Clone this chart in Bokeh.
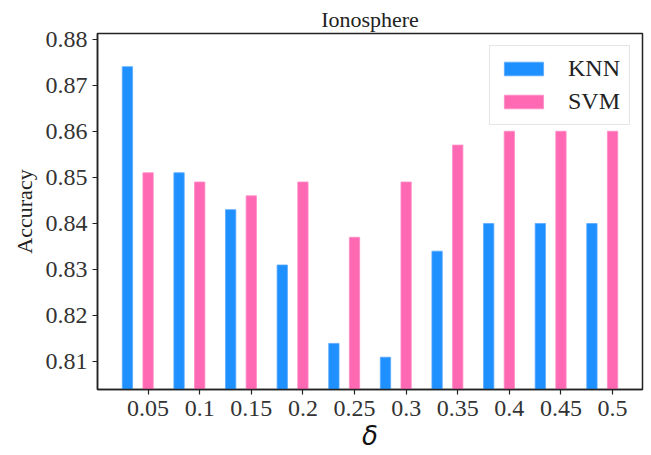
from bokeh.plotting import figure
from bokeh.models import ColumnDataSource, FixedTicker, Range1d, Legend, LegendItem, NumeralTickFormatter
from bokeh.transform import dodge
from bokeh.embed import file_html
from bokeh.resources import INLINE

# Accuracy vs. delta on the Ionosphere dataset
deltas = [0.05, 0.1, 0.15, 0.2, 0.25, 0.3, 0.35, 0.4, 0.45, 0.5]
delta_labels = ["0.05", "0.1", "0.15", "0.2", "0.25", "0.3", "0.35", "0.4", "0.45", "0.5"]
knn = [0.874, 0.851, 0.843, 0.831, 0.814, 0.811, 0.834, 0.840, 0.840, 0.840]
svm = [0.851, 0.849, 0.846, 0.849, 0.837, 0.849, 0.857, 0.860, 0.860, 0.860]
y_ticks = [0.81, 0.82, 0.83, 0.84, 0.85, 0.86, 0.87, 0.88]

SERIF = "Liberation Serif"
BLUE = "#1E90FF"
PINK = "#FF69B4"

src = ColumnDataSource(dict(delta=deltas, knn=knn, svm=svm))

p = figure(width=651, height=455, output_backend="svg", toolbar_location=None,
           x_range=Range1d(0.001, 0.529), y_range=Range1d(0.804, 0.8812),
           min_border_left=97, min_border_right=9, min_border_top=33, min_border_bottom=66)

r_knn = p.vbar(x=dodge("delta", -0.02), top="knn", bottom=0.7, width=0.01, source=src,
               fill_color=BLUE, line_color="#5aaaff", line_width=0.8)
r_svm = p.vbar(x="delta", top="svm", bottom=0.7, width=0.01, source=src,
               fill_color=PINK, line_color="#ff8cc6", line_width=0.8)

p.title.text = "Ionosphere"
p.title.align = "center"
p.title.text_font = SERIF
p.title.text_font_style = "normal"
p.title.text_font_size = "22px"
p.title.text_color = "#222222"
p.title.offset = 0
p.title.standoff = 3

p.xgrid.visible = False
p.ygrid.visible = False
p.outline_line_color = "#222222"
p.outline_line_width = 1.5
p.background_fill_color = "white"
p.border_fill_color = "white"

for ax in (p.xaxis[0], p.yaxis[0]):
    ax.major_label_text_font = SERIF
    ax.major_label_text_font_size = "24px"
    ax.major_label_text_color = "#333333"
    ax.axis_line_color = "#222222"
    ax.axis_line_width = 1.5
    ax.major_tick_line_color = "#222222"
    ax.major_tick_line_width = 1.2
    ax.major_tick_out = 5
    ax.major_tick_in = 0
    ax.minor_tick_line_color = None

p.xaxis.ticker = FixedTicker(ticks=deltas)
p.xaxis.major_label_overrides = {d: s for d, s in zip(deltas, delta_labels)}
p.xaxis.major_label_standoff = 6
p.xaxis.axis_label = "δ"
p.xaxis.axis_label_text_font = "DejaVu Sans"
p.xaxis.axis_label_text_font_style = "italic"
p.xaxis.axis_label_text_font_size = "26px"
p.xaxis.axis_label_text_color = "#111111"
p.xaxis.axis_label_standoff = 2

p.yaxis.ticker = FixedTicker(ticks=y_ticks)
p.yaxis.formatter = NumeralTickFormatter(format="0.00")
p.yaxis.major_label_standoff = 5
p.yaxis.axis_label = "Accuracy"
p.yaxis.axis_label_text_font = SERIF
p.yaxis.axis_label_text_font_style = "normal"
p.yaxis.axis_label_text_font_size = "22px"
p.yaxis.axis_label_text_color = "#222222"
p.yaxis.axis_label_standoff = 6

legend = Legend(items=[LegendItem(label="KNN", renderers=[r_knn]),
                       LegendItem(label="SVM", renderers=[r_svm])],
                location="top_right")
legend.glyph_width = 49
legend.glyph_height = 17
legend.label_text_font = SERIF
legend.label_text_font_size = "24px"
legend.label_text_color = "#222222"
legend.label_standoff = 20
legend.spacing = 6
legend.padding = 9
legend.margin = 12
legend.border_line_color = "#cccccc"
legend.border_line_width = 1
legend.background_fill_alpha = 1.0
p.add_layout(legend)

open("out.html", "w").write(file_html(p, INLINE))
